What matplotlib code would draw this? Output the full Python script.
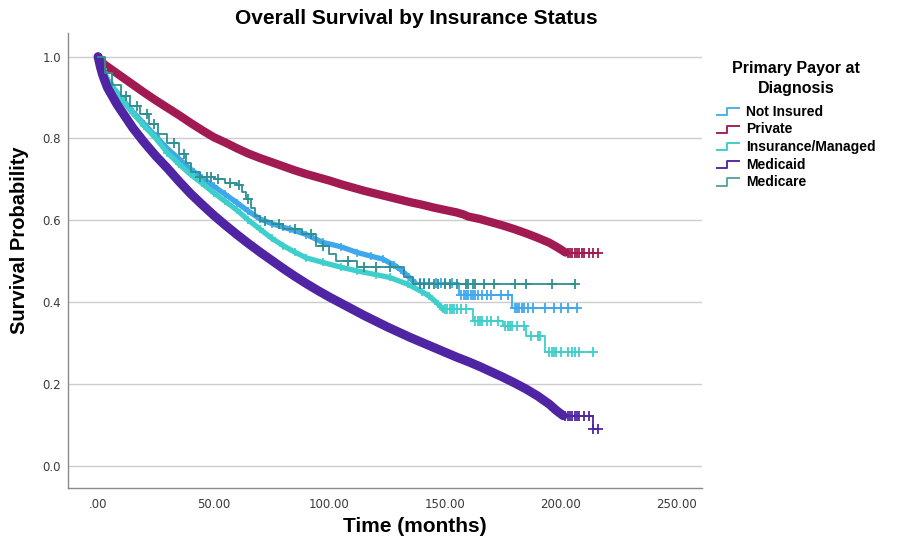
import numpy as np
import matplotlib
matplotlib.use("Agg")
import matplotlib.pyplot as plt
from matplotlib.lines import Line2D
from matplotlib.legend_handler import HandlerBase

# ---------------- data ----------------
groups = ["Not Insured", "Private", "Insurance/Managed", "Medicaid", "Medicare"]

t_not_insured = [0, 2, 5, 10, 15, 20, 25, 30, 35, 40, 45, 50, 55, 60, 65, 70, 75, 80, 83, 90,
                 97, 105, 112, 118, 123, 128, 131, 134.5, 137, 156, 179, 207]
s_not_insured = [1.0, 0.965, 0.935, 0.9, 0.865, 0.835, 0.805, 0.775, 0.75, 0.725, 0.703, 0.683,
                 0.663, 0.643, 0.622, 0.603, 0.592, 0.583, 0.578, 0.565, 0.546, 0.535, 0.521,
                 0.512, 0.505, 0.49, 0.478, 0.46, 0.447, 0.416, 0.386, 0.386]
cens_not_insured = [139, 141, 143, 146, 148, 150, 153, 157, 158, 159, 160, 161, 162, 163, 164,
                    166, 168, 170, 174, 177, 180, 181, 182, 183, 184, 186, 188, 193, 197, 200,
                    203, 207]

t_private = [0, 1, 3, 5, 10, 15, 20, 25, 30, 35, 40, 45, 50, 55, 60, 65, 70, 75, 80, 85, 90,
             95, 100, 105, 110, 115, 120, 125, 130, 135, 140, 145, 150, 155, 158, 160, 165,
             170, 175, 180, 185, 190, 195, 199, 202, 216]
s_private = [1.0, 0.99, 0.98, 0.972, 0.952, 0.932, 0.912, 0.893, 0.875, 0.857, 0.838, 0.82,
             0.803, 0.79, 0.776, 0.763, 0.752, 0.742, 0.732, 0.722, 0.713, 0.705, 0.697,
             0.688, 0.68, 0.672, 0.665, 0.658, 0.651, 0.644, 0.638, 0.631, 0.625, 0.619,
             0.614, 0.609, 0.603, 0.595, 0.587, 0.578, 0.568, 0.557, 0.545, 0.532, 0.521, 0.52]
cens_private = [203, 204, 205, 206, 207, 208, 209, 210, 212, 214, 216]

t_insured = [0, 2, 5, 10, 15, 20, 25, 30, 35, 40, 45, 50, 55, 60, 65, 70, 75, 80, 85, 90, 97,
             105, 112, 120, 126, 134, 140, 143, 147, 149, 162, 175, 185, 193, 214]
s_insured = [1.0, 0.97, 0.935, 0.897, 0.862, 0.83, 0.8, 0.765, 0.737, 0.712, 0.69, 0.667,
             0.646, 0.625, 0.6, 0.578, 0.556, 0.538, 0.522, 0.508, 0.497, 0.485, 0.476, 0.467,
             0.46, 0.443, 0.425, 0.415, 0.395, 0.382, 0.354, 0.342, 0.317, 0.278, 0.278]
cens_insured = [150, 151, 152, 153, 154, 155, 157, 159, 163, 164, 165, 166, 168, 170, 173,
                176, 177, 178, 179, 181, 184, 187, 190, 191, 195, 196, 197, 198, 200, 203,
                205, 206, 208, 214]

t_medicaid = [0, 1, 2, 4, 6, 8, 10, 15, 20, 25, 30, 35, 40, 45, 50, 55, 60, 65, 70, 75, 80,
              85, 90, 95, 100, 105, 110, 115, 120, 125, 130, 135, 140, 145, 150, 155, 160,
              165, 170, 175, 180, 185, 190, 195, 198, 201, 214, 216]
s_medicaid = [1.0, 0.975, 0.955, 0.925, 0.905, 0.885, 0.868, 0.826, 0.79, 0.757, 0.727,
              0.695, 0.665, 0.638, 0.612, 0.588, 0.565, 0.543, 0.522, 0.502, 0.482, 0.463,
              0.445, 0.428, 0.412, 0.397, 0.382, 0.367, 0.353, 0.339, 0.326, 0.313, 0.301,
              0.289, 0.277, 0.265, 0.254, 0.242, 0.229, 0.216, 0.202, 0.187, 0.17, 0.15,
              0.135, 0.122, 0.09, 0.09]
cens_medicaid = [202, 203, 204, 205, 206, 207, 208, 210, 212, 214, 216]

t_medicare = [0, 3, 6, 10, 14, 18, 22, 26, 30, 35, 38, 40, 44, 50, 55, 60, 62, 64, 66, 68, 70,
              75, 80, 88, 94, 100, 103, 112, 132, 136, 206]
s_medicare = [1.0, 0.96, 0.93, 0.905, 0.88, 0.86, 0.835, 0.81, 0.79, 0.762, 0.74, 0.718,
              0.705, 0.7, 0.69, 0.685, 0.67, 0.652, 0.63, 0.61, 0.598, 0.59, 0.578, 0.566,
              0.537, 0.517, 0.5, 0.485, 0.46, 0.445, 0.445]
cens_medicare = [12, 17, 21, 24, 33, 37, 44, 47, 49, 52, 57, 61, 65, 72, 78, 85, 92, 97, 108,
                 115, 120, 126, 139, 141, 143, 145, 147, 150, 152, 155, 159, 160, 162, 163,
                 167, 171, 180, 185, 196, 206]

x_ticks = [0, 50, 100, 150, 200, 250]
x_tick_labels = [".00", "50.00", "100.00", "150.00", "200.00", "250.00"]
y_ticks = [0.0, 0.2, 0.4, 0.6, 0.8, 1.0]
y_tick_labels = ["0.0", "0.2", "0.4", "0.6", "0.8", "1.0"]

# ---------------- style ----------------
colors = ["#3FA7EC", "#A21A52", "#3ECFCC", "#4F25A3", "#2E9090"]
legend_colors = ["#4CB2EA", "#A8205A", "#45CCCC", "#5A2CA0", "#5FA5A5"]
band_width = [3.8, 6.0, 3.8, 6.5, 0.0]
band_marks = [True, False, True, False, False]
dense_end = [137, 202, 149, 201, 0]

series = [
    (t_not_insured, s_not_insured, cens_not_insured),
    (t_private, s_private, cens_private),
    (t_insured, s_insured, cens_insured),
    (t_medicaid, s_medicaid, cens_medicaid),
    (t_medicare, s_medicare, cens_medicare),
]

W, H = 898, 546
fig = plt.figure(figsize=(W / 100, H / 100), dpi=100)
ax = fig.add_axes([68 / W, 1 - 488 / H, (702 - 68) / W, (488 - 33) / H])


def step_value(t, s, x):
    t = np.asarray(t, float)
    s = np.asarray(s, float)
    idx = np.searchsorted(t, x, side="right") - 1
    return s[np.clip(idx, 0, len(s) - 1)]


handles = []
for (t, s, cens), col, bw, bm, de in zip(series, colors, band_width, band_marks, dense_end):
    t = np.asarray(t, float)
    s = np.asarray(s, float)
    if bw > 0:
        m = t <= de
        ax.plot(t[m], s[m], color=col, lw=bw, solid_capstyle="round",
                solid_joinstyle="round", zorder=3)
        if bm:
            ax.plot(t[m], s[m], "+", color=col, ms=6, mew=1.2, zorder=3)
        k = max(int(np.sum(m)) - 1, 0)
        ax.step(t[k:], s[k:], where="post", color=col, lw=1.3, zorder=3)
    else:
        ax.step(t, s, where="post", color=col, lw=1.3, zorder=3)
    ct = np.asarray(cens, float)
    ax.plot(ct, step_value(t, s, ct), "+", color=col, ms=7, mew=1.3, zorder=4)
    handles.append(Line2D([], [], color=col))

ax.set_xlim(-13, 261)
ax.set_ylim(-0.055, 1.058)
ax.set_xticks(x_ticks)
ax.set_xticklabels(x_tick_labels)
ax.set_yticks(y_ticks)
ax.set_yticklabels(y_tick_labels)
ax.tick_params(length=0, labelsize=8.5, labelcolor="#3a3a3a")
ax.tick_params(axis="x", pad=7)
ax.tick_params(axis="y", pad=5)
for lab in ax.get_xticklabels() + ax.get_yticklabels():
    lab.set_fontfamily("DejaVu Sans")
ax.yaxis.grid(True, color="#cccccc", lw=1.0, zorder=0)
ax.set_axisbelow(True)
for sp in ["top", "right"]:
    ax.spines[sp].set_visible(False)
for sp in ["left", "bottom"]:
    ax.spines[sp].set_color("#8a8a8a")
    ax.spines[sp].set_linewidth(1.0)

font = "Liberation Sans"
fig.text(416 / W, 1 - 18 / H, "Overall Survival by Insurance Status", ha="center",
         va="center", fontsize=15, fontweight="bold", family=font)
fig.text(415 / W, 1 - 527 / H, "Time (months)", ha="center", va="center",
         fontsize=15, fontweight="bold", family=font)
fig.text(20 / W, 1 - 240 / H, "Survival Probability", ha="center", va="center",
         rotation=90, fontsize=14.5, fontweight="bold", family=font)


class StepHandler(HandlerBase):
    def create_artists(self, legend, orig_handle, xdescent, ydescent, width, height,
                       fontsize, trans):
        xs = np.array([0, 0.45, 0.45, 1.0]) * width - xdescent
        ys = np.array([0.05, 0.05, 0.8, 0.8]) * height - ydescent
        ln = Line2D(xs, ys, color=orig_handle.get_color(), lw=1.4, transform=trans)
        return [ln]


for h, c in zip(handles, legend_colors):
    h.set_color(c)
leg = fig.legend(handles, groups, loc="upper left", bbox_to_anchor=(717 / W, 1 - 61 / H),
                 frameon=False, handler_map={Line2D: StepHandler()},
                 prop={"family": font, "weight": "bold", "size": 10},
                 handlelength=1.6, handletextpad=0.5, labelspacing=0.26,
                 borderpad=0, borderaxespad=0)
leg.set_title("Primary Payor at\nDiagnosis", prop={"family": font, "weight": "bold",
                                                   "size": 11.5})
leg.get_title().set_multialignment("center")
leg.get_title().set_linespacing(1.45)
leg._legend_box.sep = 6

fig.savefig("out.png", dpi=100)
